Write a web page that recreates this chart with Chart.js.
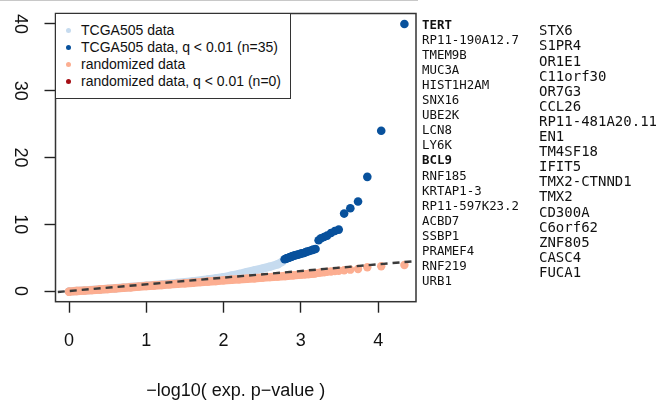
<!DOCTYPE html>
<html>
<head>
<meta charset="utf-8">
<script src="https://cdn.jsdelivr.net/npm/chart.js@4"></script>
<style>
  body { margin: 0; background: #fff; }
  #wrap { position: relative; width: 658px; height: 406px; background: #fff; overflow: hidden; }
  #topline { position: absolute; left: 0; top: 0; width: 418px; height: 1px; background: #c8c8c8; }
  canvas { position: absolute; left: 0; top: 0; }
  .legend {
    position: absolute; left: 55px; top: 13px; width: 234px; height: 84px;
    border: 1.5px solid #333; background: #fff;
    font-family: "Liberation Sans", Arial, sans-serif; font-size: 14px; color: #111;
  }
  .legend .row { position: absolute; left: 0; height: 17px; line-height: 17px; white-space: nowrap; }
  .legend .dot { position: absolute; left: 10px; top: 6px; width: 5px; height: 5px; border-radius: 50%; }
  .legend .txt { position: absolute; left: 25px; top: 0; }
  .genes {
    position: absolute; font-family: "DejaVu Sans Mono", monospace;
    color: #111; white-space: nowrap;
  }
  .genes div { line-height: 15.1px; height: 15.1px; }
  .genes b { font-weight: bold; }
</style>
</head>
<body>
<div id="wrap">
  <div id="topline"></div>
  <canvas id="qqChart" width="658" height="406"></canvas>
  <div class="legend" id="legend"></div>
  <div class="genes" id="genes1" style="left:422px; top:16.6px; font-size:12.4px;"></div>
  <div class="genes" id="genes2" style="left:539px; top:23.4px; font-size:14px;"></div>
</div>
<script>
// tick labels
const xTicks = [0, 1, 2, 3, 4];
const yTicks = [0, 10, 20, 30, 40];
const xTitle = "\u2212log10( exp. p\u2212value )";

// TCGA505 data (not significant) - read along the centre of the dense band
const tcgaX = [0.0, 0.2, 0.4, 0.6, 0.8, 1.0, 1.2, 1.4, 1.6, 1.8, 1.9, 2.0, 2.1, 2.2, 2.3, 2.4, 2.5, 2.6, 2.7, 2.76];
const tcgaY = [-0.05, 0.08, 0.24, 0.42, 0.6, 0.8, 1.0, 1.22, 1.45, 1.72, 1.88, 2.06, 2.3, 2.55, 2.82, 3.08, 3.35, 3.65, 4.0, 4.4];

// TCGA505 data, q < 0.01 (n=35)
const sigX = [2.79, 2.81, 2.82, 2.83, 2.85, 2.86, 2.88, 2.89, 2.91, 2.93, 2.94, 2.96, 2.98, 3.00, 3.02, 3.04, 3.06, 3.08,
              3.11, 3.14, 3.16, 3.19, 3.23, 3.26, 3.30, 3.34, 3.39, 3.44, 3.49, 3.56, 3.64, 3.74, 3.86, 4.04, 4.34];
const sigY = [4.75, 4.85, 4.9, 4.95, 5.0, 5.1, 5.15, 5.2, 5.3, 5.35, 5.4, 5.45, 5.5, 5.6, 5.65, 5.7, 5.8, 5.9,
              6.0, 6.1, 6.2, 6.3, 7.6, 7.9, 8.1, 8.3, 8.7, 9.0, 9.2, 11.6, 12.4, 13.4, 17.1, 24.0, 40.0];

// randomized data
const randX = [0.0, 0.1, 0.2, 0.3, 0.4, 0.5, 0.6, 0.7, 0.8, 0.9, 1.0, 1.1, 1.2, 1.3, 1.4, 1.5, 1.6, 1.7, 1.8, 1.9,
               2.0, 2.1, 2.2, 2.3, 2.4, 2.5, 2.6, 2.7, 2.8, 2.9, 3.0, 3.05, 3.1, 3.16, 3.19, 3.23, 3.26, 3.30,
               3.34, 3.39, 3.44, 3.49, 3.56, 3.64, 3.74, 3.86, 4.04, 4.34];
const randY = [-0.1, 0.0, 0.06, 0.14, 0.22, 0.3, 0.39, 0.48, 0.57, 0.66, 0.75, 0.83, 0.91, 0.99, 1.07, 1.15, 1.24, 1.33, 1.42, 1.51,
               1.6, 1.68, 1.76, 1.84, 1.92, 2.0, 2.08, 2.16, 2.25, 2.35, 2.45, 2.5, 2.55, 2.62, 2.66, 2.72, 2.78, 2.82,
               2.88, 2.93, 2.98, 3.04, 3.1, 3.2, 3.3, 3.55, 3.72, 3.9];

// randomized data, q < 0.01 (n=0)
const randSigX = [];
const randSigY = [];

// y = x reference line
const refX = [-0.3, 4.7];
const refY = [-0.3, 4.7];

const legendLabels = ["TCGA505 data", "TCGA505 data, q < 0.01 (n=35)", "randomized data", "randomized data, q < 0.01 (n=0)"];
const legendColors = ["#c6dbef", "#08519c", "#fcae91", "#a50f15"];

const genesCol1 = ["TERT", "RP11-190A12.7", "TMEM9B", "MUC3A", "HIST1H2AM", "SNX16", "UBE2K", "LCN8", "LY6K",
                   "BCL9", "RNF185", "KRTAP1-3", "RP11-597K23.2", "ACBD7", "SSBP1", "PRAMEF4", "RNF219", "URB1"];
const genesCol2 = ["STX6", "S1PR4", "OR1E1", "C11orf30", "OR7G3", "CCL26", "RP11-481A20.11", "EN1", "TM4SF18",
                   "IFIT5", "TMX2-CTNND1", "TMX2", "CD300A", "C6orf62", "ZNF805", "CASC4", "FUCA1"];
const boldGenes = ["TERT", "BCL9"];

function pts(xs, ys) {
  return xs.map((x, i) => ({ x: x, y: ys[i] }));
}

const font = "'Liberation Sans', Arial, sans-serif";
const bandWidth = 8.4;
const denseUntil = 3.2; // past this the randomized points are sparse, no band between them

const boxPlugin = {
  id: "box",
  afterDraw(chart) {
    const { ctx, chartArea: a } = chart;
    ctx.save();
    ctx.strokeStyle = "#333";
    ctx.lineWidth = 1.5;
    ctx.strokeRect(a.left, a.top, a.right - a.left, a.bottom - a.top);
    ctx.restore();
  }
};

new Chart(document.getElementById("qqChart"), {
  type: "scatter",
  data: {
    datasets: [
      {
        label: "y = x",
        data: pts(refX, refY),
        showLine: true,
        borderColor: "#3a3a3a",
        borderWidth: 2.4,
        borderDash: [7, 5],
        pointRadius: 0
      },
      {
        label: legendLabels[3],
        data: pts(randSigX, randSigY),
        backgroundColor: legendColors[3],
        pointRadius: 4.2,
        borderWidth: 0
      },
      {
        label: legendLabels[2],
        data: pts(randX, randY),
        showLine: true,
        borderColor: legendColors[2],
        borderWidth: bandWidth,
        borderCapStyle: "round",
        borderJoinStyle: "round",
        segment: {
          borderWidth: bandWidth,
          borderColor: c => (c.p1.parsed.x > denseUntil ? "rgba(0,0,0,0)" : legendColors[2])
        },
        backgroundColor: legendColors[2],
        pointRadius: 4.2,
        pointBorderWidth: 0
      },
      {
        label: legendLabels[1],
        data: pts(sigX, sigY),
        backgroundColor: legendColors[1],
        pointRadius: 4.3,
        pointBorderWidth: 0
      },
      {
        label: legendLabels[0],
        data: pts(tcgaX, tcgaY),
        showLine: true,
        borderColor: legendColors[0],
        borderWidth: bandWidth,
        borderCapStyle: "round",
        borderJoinStyle: "round",
        backgroundColor: legendColors[0],
        pointRadius: 4.2,
        pointBorderWidth: 0
      }
    ]
  },
  options: {
    responsive: false,
    animation: false,
    layout: { padding: { left: 0, top: 13.5, right: 242, bottom: 0 } },
    plugins: {
      legend: { display: false },
      tooltip: { enabled: false }
    },
    scales: {
      x: {
        type: "linear",
        min: -0.175,
        max: 4.49,
        afterBuildTicks: s => { s.ticks = xTicks.map(v => ({ value: v })); },
        afterFit: s => { s.height = 104.3; s.paddingLeft = 0; s.paddingRight = 0; },
        grid: { drawOnChartArea: false, drawTicks: true, tickLength: 11, tickColor: "#222", tickWidth: 1.4 },
        border: { display: false },
        ticks: { color: "#111", font: { family: font, size: 18 }, padding: 17.5, maxRotation: 0 },
        title: { display: true, text: xTitle, color: "#111", font: { family: font, size: 18 }, padding: { top: 0, bottom: 4 } }
      },
      y: {
        type: "linear",
        min: -1.6,
        max: 41.57,
        afterBuildTicks: s => { s.ticks = yTicks.map(v => ({ value: v })); },
        afterFit: s => { s.width = 55.5; s.paddingTop = 0; s.paddingBottom = 0; },
        grid: { drawOnChartArea: false, drawTicks: true, tickLength: 11, tickColor: "#222", tickWidth: 1.4 },
        border: { display: false },
        ticks: { color: "#111", font: { family: font, size: 18 }, padding: 14.5, minRotation: -90, maxRotation: -90, crossAlign: "center" }
      }
    }
  },
  plugins: [boxPlugin]
});

// legend box
const legendEl = document.getElementById("legend");
legendLabels.forEach((lab, i) => {
  const row = document.createElement("div");
  row.className = "row";
  row.style.top = (8.2 + i * 16.9) + "px";
  row.innerHTML = '<span class="dot" style="background:' + legendColors[i] + '"></span><span class="txt"></span>';
  row.querySelector(".txt").textContent = lab;
  legendEl.appendChild(row);
});

// gene names
function fillGenes(id, list) {
  const el = document.getElementById(id);
  list.forEach(g => {
    const d = document.createElement("div");
    if (boldGenes.includes(g)) {
      const b = document.createElement("b");
      b.textContent = g;
      d.appendChild(b);
    } else {
      d.textContent = g;
    }
    el.appendChild(d);
  });
}
fillGenes("genes1", genesCol1);
fillGenes("genes2", genesCol2);
</script>
</body>
</html>
